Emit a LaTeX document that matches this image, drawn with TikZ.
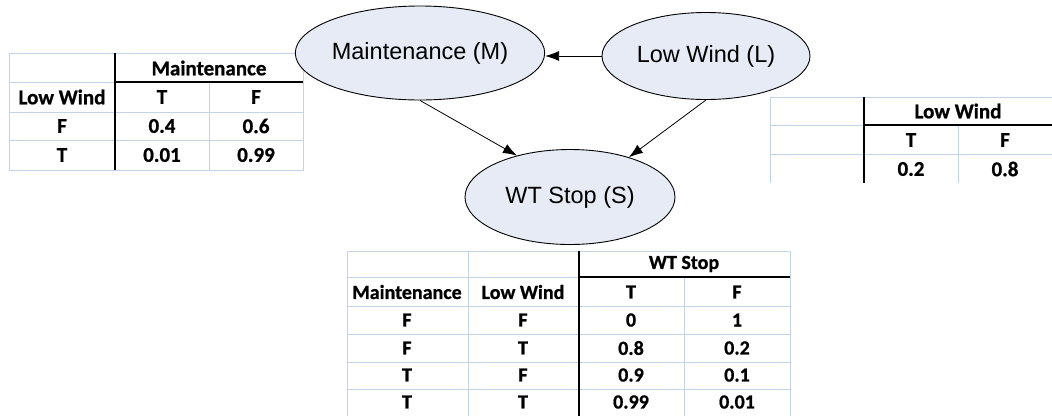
\documentclass[tikz,border=0pt]{standalone}
\usepackage{fontspec}
\setmainfont{Liberation Sans}
\newfontfamily\tabfont[BoldFeatures={FakeBold=0.8}]{Carlito}
\usetikzlibrary{shapes.geometric,arrows.meta}
\definecolor{nodefill}{RGB}{230,235,246}
\definecolor{grid}{RGB}{197,211,230}
\tikzset{
  bnode/.style={ellipse,draw=black,line width=0.9pt,fill=nodefill,inner sep=0pt,font=\fontsize{23.5}{28}\selectfont},
  edge/.style={line width=0.8pt,-{Latex[length=14pt,width=10pt]}},
  lite/.style={draw=grid,line width=1pt},
  dark/.style={draw=black,line width=1.6pt},
  cell/.style={font=\tabfont\bfseries\fontsize{21}{24}\selectfont,inner sep=0pt},
  cellb/.style={font=\tabfont\bfseries\fontsize{20}{24}\selectfont,inner sep=0pt}
}
\begin{document}
\begin{tikzpicture}[x=1pt,y=-1pt]
\useasboundingbox (0,0) rectangle (1052,416);
% ---- left table (P(M|L))
\draw[lite] (9,53) rectangle (303,170);
\draw[lite] (9,82) -- (115,82);
\draw[lite] (9,112) -- (303,112);
\draw[lite] (9,140) -- (303,140);
\draw[lite] (209,82) -- (209,170);
\draw[dark] (115,82) -- (303,82);
\draw[dark] (115,53) -- (115,170);
\node[cell] (lt1) at (209,68) {Maintenance};
\node[cell] (lt2) at (62,97) {Low Wind};
\node[cell] (lt3) at (162,97) {T};
\node[cell] (lt4) at (256,97) {F};
\node[cell] (lt5) at (62,126) {F};
\node[cell] (lt6) at (162,126) {0.4};
\node[cell] (lt7) at (256,126) {0.6};
\node[cell] (lt8) at (62,155) {T};
\node[cell] (lt9) at (162,155) {0.01};
\node[cell] (lt10) at (256,155) {0.99};
% ---- right table (P(L))
\draw[lite] (770,183) -- (770,97) -- (1052,97);
\draw[lite] (770,125) -- (864,125);
\draw[lite] (770,154) -- (1052,154);
\draw[lite] (958,125) -- (958,183);
\draw[dark] (864,125) -- (1052,125);
\draw[dark] (864,97) -- (864,183);
\node[cell] (rt1) at (958,111) {Low Wind};
\node[cell] (rt2) at (911,140) {T};
\node[cell] (rt3) at (1005,140) {F};
\node[cell] (rt4) at (911,169) {0.2};
\node[cell] (rt5) at (1005,169) {0.8};
% ---- bottom table (P(S|M,L))
\draw[lite] (347,416) -- (347,251) -- (790,251) -- (790,416);
\draw[lite] (347,277) -- (579,277);
\foreach \yy in {306,334,362,389} \draw[lite] (347,\yy) -- (790,\yy);
\draw[lite] (468,251) -- (468,416);
\draw[lite] (684,277) -- (684,416);
\draw[dark] (579,277) -- (790,277);
\draw[dark] (579,251) -- (579,416);
\node[cellb] (bt1) at (684,264) {WT Stop};
\node[cellb] (bh1) at (407,292) {Maintenance};
\node[cellb] (bh2) at (523,292) {Low Wind};
\node[cellb] (bh3) at (631,292) {T};
\node[cellb] (bh4) at (737,292) {F};
\node[cellb] (b11) at (407,320) {F};
\node[cellb] (b12) at (523,320) {F};
\node[cellb] (b13) at (631,320) {0};
\node[cellb] (b14) at (737,320) {1};
\node[cellb] (b21) at (407,348) {F};
\node[cellb] (b22) at (523,348) {T};
\node[cellb] (b23) at (631,348) {0.8};
\node[cellb] (b24) at (737,348) {0.2};
\node[cellb] (b31) at (407,375) {T};
\node[cellb] (b32) at (523,375) {F};
\node[cellb] (b33) at (631,375) {0.9};
\node[cellb] (b34) at (737,375) {0.1};
\node[cellb] (b41) at (407,402) {T};
\node[cellb] (b42) at (523,402) {T};
\node[cellb] (b43) at (631,402) {0.99};
\node[cellb] (b44) at (737,402) {0.01};
% ---- Bayesian network
\node[bnode,minimum width=220pt,minimum height=94pt] (M) at (420,53) {Maintenance (M)};
\node[bnode,minimum width=208pt,minimum height=87pt] (L) at (706,56) {Low Wind (L)};
\node[bnode,minimum width=210pt,minimum height=95pt] (S) at (570,197) {WT Stop (S)};
\draw[edge] (L.west) -- (M.east |- L.west);
\draw[edge] (M.south) -- (S.142);
\draw[edge] (L.south) -- (S.34);
\end{tikzpicture}
\end{document}
